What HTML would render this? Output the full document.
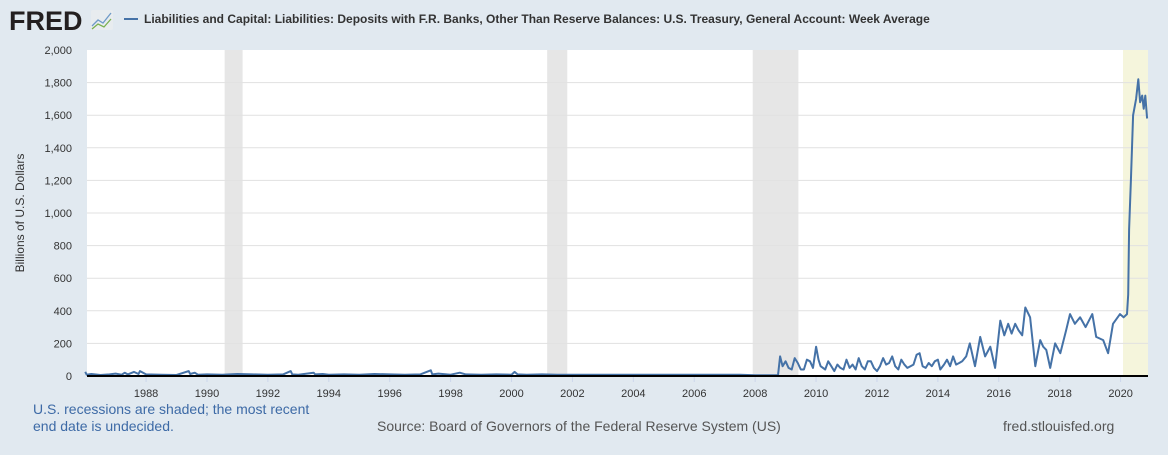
<!DOCTYPE html>
<html><head><meta charset="utf-8"><style>
body{margin:0;background:#e1e9f0;font-family:"Liberation Sans",sans-serif;}
</style></head><body>
<svg id="c" width="1168" height="450" xmlns="http://www.w3.org/2000/svg">
<rect width="1168" height="450" fill="#e1e9f0"/>
<text x="9" y="30" font-size="27" font-weight="bold" fill="#231f20" letter-spacing="0">FRED</text>
<g><rect x="91" y="10" width="22" height="20" rx="2" fill="#e8ecef"/><polyline points="92,26 98,20 103,23 111,13" fill="none" stroke="#6f9ac8" stroke-width="1.3"/><polyline points="92,29 98,24 104,27 111,19" fill="none" stroke="#7ab04f" stroke-width="1.3"/></g>
<line x1="124" y1="19" x2="138" y2="19" stroke="#4572a7" stroke-width="2"/>
<text x="144" y="23" font-size="12" font-weight="bold" fill="#333">Liabilities and Capital: Liabilities: Deposits with F.R. Banks, Other Than Reserve Balances: U.S. Treasury, General Account: Week Average</text>
<rect x="87" y="50" width="1061" height="326" fill="#fff"/>
<g id="rec"></g><g id="grid"></g><g id="xt"></g>
<path id="line" fill="none" stroke="#4572a7" stroke-width="2" stroke-linejoin="round"/>
<line x1="87" y1="376" x2="1148" y2="376" stroke="#000" stroke-width="2"/>
<text transform="translate(24,213) rotate(-90)" text-anchor="middle" font-size="12" fill="#333">Billions of U.S. Dollars</text>
<text x="33" y="414" font-size="14" fill="#3d6aa6">U.S. recessions are shaded; the most recent</text>
<text x="33" y="431" font-size="14" fill="#3d6aa6">end date is undecided.</text>
<text x="377" y="431" font-size="14" fill="#555">Source: Board of Governors of the Federal Reserve System (US)</text>
<text x="1003" y="431" font-size="14" fill="#555">fred.stlouisfed.org</text>
</svg>
<script>
const yTicks=[0,200,400,600,800,1000,1200,1400,1600,1800,2000];
const xTickYears=[1988,1990,1992,1994,1996,1998,2000,2002,2004,2006,2008,2010,2012,2014,2016,2018,2020];
const recStarts=[1990.58,2001.17,2007.92,2020.08];
const recEnds=[1991.17,2001.83,2009.42,2020.9];
const dates=[1986.0,1986.05,1986.2,1986.5,1986.8,1987.0,1987.2,1987.3,1987.4,1987.6,1987.75,1987.8,1988.0,1988.5,1989.0,1989.4,1989.45,1989.6,1989.7,1990.0,1990.5,1991.0,1991.5,1992.0,1992.5,1992.75,1992.8,1993.0,1993.5,1993.55,1993.8,1994.0,1994.5,1995.0,1995.5,1996.0,1996.5,1997.0,1997.35,1997.4,1997.6,1998.0,1998.3,1998.5,1999.0,1999.5,2000.0,2000.1,2000.2,2000.5,2001.0,2001.5,2002.0,2003.0,2004.0,2005.0,2006.0,2007.0,2007.5,2008.0,2008.5,2008.75,2008.82,2008.9,2009.0,2009.1,2009.2,2009.3,2009.4,2009.5,2009.6,2009.7,2009.8,2009.9,2010.0,2010.08,2010.15,2010.3,2010.4,2010.5,2010.6,2010.7,2010.8,2010.9,2011.0,2011.1,2011.2,2011.3,2011.4,2011.5,2011.6,2011.7,2011.8,2011.9,2012.0,2012.1,2012.2,2012.3,2012.4,2012.5,2012.6,2012.7,2012.8,2012.9,2013.0,2013.1,2013.2,2013.3,2013.4,2013.5,2013.6,2013.7,2013.8,2013.9,2014.0,2014.08,2014.2,2014.3,2014.4,2014.5,2014.6,2014.7,2014.8,2014.93,2015.05,2015.22,2015.39,2015.55,2015.72,2015.88,2016.05,2016.18,2016.31,2016.42,2016.54,2016.65,2016.77,2016.87,2017.03,2017.2,2017.36,2017.46,2017.56,2017.69,2017.85,2018.02,2018.21,2018.34,2018.5,2018.67,2018.85,2019.07,2019.2,2019.43,2019.59,2019.75,2019.98,2020.1,2020.21,2020.25,2020.28,2020.34,2020.41,2020.51,2020.58,2020.64,2020.71,2020.76,2020.81,2020.87,2020.9];
const values=[25,8,12,6,10,15,8,20,10,25,12,30,10,8,6,30,12,20,8,10,8,12,10,8,10,30,10,8,20,10,12,8,10,8,12,10,8,10,35,10,15,8,20,10,8,10,8,25,10,8,10,8,8,8,8,8,8,8,8,5,5,5,120,60,90,50,40,110,80,40,40,100,90,50,180,100,60,40,90,60,30,70,50,40,100,50,70,40,110,60,40,90,90,50,30,60,110,70,80,120,60,40,100,70,50,60,70,130,140,60,50,80,60,90,100,40,70,100,60,120,70,80,90,120,200,60,240,120,180,50,340,250,320,260,320,280,250,420,360,60,220,180,160,50,200,140,280,380,320,360,300,380,240,220,140,320,380,360,380,500,900,1200,1600,1700,1820,1680,1720,1640,1720,1580];
const X0=87,X1=1148,D0=1986.06,D1=2020.9,Y0=376,Y1=50;
const xs=d=>X0+(d-D0)/(D1-D0)*(X1-X0);
const ys=v=>Y0-v/2000*(Y0-Y1);
const NS="http://www.w3.org/2000/svg";
function mk(tag,attrs,parent){const e=document.createElementNS(NS,tag);for(const k in attrs)e.setAttribute(k,attrs[k]);document.getElementById(parent).appendChild(e);return e;}
recStarts.forEach((s,i)=>{const last=i===recStarts.length-1;
const r=mk('rect',{x:xs(s),y:Y1,width:xs(recEnds[i])-xs(s),height:Y0-Y1,fill:last?'#f5f5dc':'#e6e6e6'},'rec');

});
yTicks.forEach(v=>{if(v>0&&v<2000){const l=mk('line',{x1:X0,x2:X1,y1:ys(v),y2:ys(v),stroke:'#e1e1e1','stroke-width':1},'grid');

}
const t=mk('text',{x:72,y:ys(v)+4,'text-anchor':'end','font-size':11,fill:'#333'},'grid');t.textContent=v.toLocaleString('en-US');

});
xTickYears.forEach(y=>{const x=xs(y);mk('line',{x1:x,x2:x,y1:Y0,y2:Y0+6,stroke:'#ccd6eb'},'xt');
const t=mk('text',{x:x,y:397,'text-anchor':'middle','font-size':11,fill:'#333'},'xt');t.textContent=y;

});
document.getElementById('line').setAttribute('d',dates.map((d,i)=>(i?'L':'M')+xs(d).toFixed(1)+','+ys(values[i]).toFixed(1)).join(''));
</script>
</body></html>
